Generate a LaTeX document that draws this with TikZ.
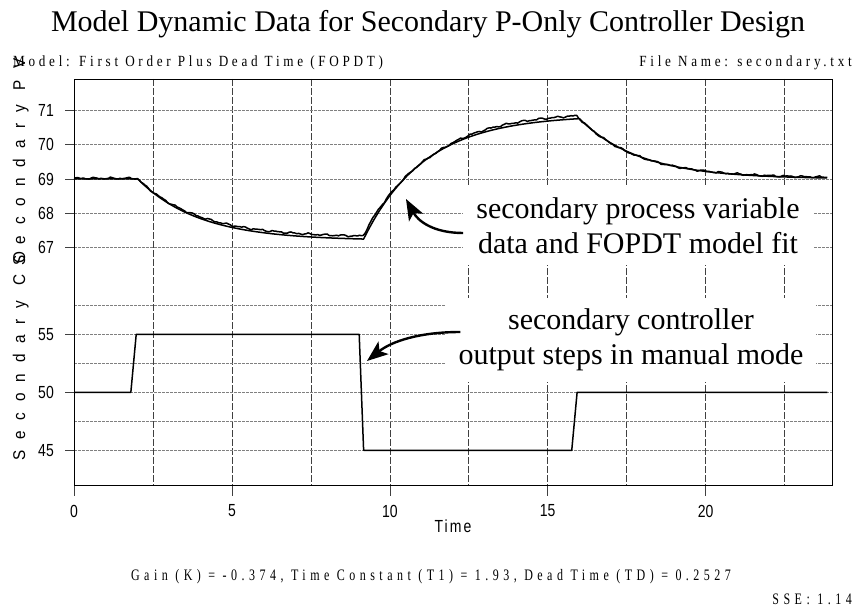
\documentclass[tikz,border=0pt]{standalone}
\usepackage{fontspec}
\setmainfont{Liberation Serif}
\newfontfamily\ticksans[FakeStretch=0.8]{Liberation Sans}
\newfontfamily\axistitle[FakeStretch=0.9,LetterSpace=64]{Liberation Sans}
\newfontfamily\timefont[FakeStretch=0.8,LetterSpace=12]{Liberation Sans}
\newfontfamily\headfont[FakeStretch=0.85,LetterSpace=24]{Liberation Serif}
\newfontfamily\infofont[FakeStretch=0.75,LetterSpace=28]{Liberation Serif}
\usetikzlibrary{arrows.meta}

\begin{document}
\begin{tikzpicture}[x=1pt,y=-1pt,
  frame/.style={line width=0.9pt},
  vgrid/.style={line width=0.6pt, black!75, dash pattern=on 7pt off 2pt},
  hgrid/.style={line width=0.7pt, black!50, dash pattern=on 3pt off 1pt},
  tickmark/.style={line width=0.6pt, black!75},
  trace/.style={line width=1.5pt, line join=round},
  note/.style={fill=white, align=center, font=\fontsize{30}{35}\selectfont,
               inner xsep=13pt, inner ysep=11pt},
  leader/.style={line width=2.4pt, -{Stealth[length=21pt,width=16pt,inset=5pt]}},
  ticklabel/.style={font=\ticksans\fontsize{17.5}{18}\selectfont, inner sep=0pt},
  headtext/.style={font=\headfont\fontsize{15.5}{16}\selectfont, inner sep=0pt},
  infotext/.style={font=\infofont\fontsize{16}{17}\selectfont, inner sep=0pt},
  declare function={
    nz(\t)=0.018*sin(10*mod(69*\t,36))+0.012*sin(10*mod(127*\t,36)+40)
           +0.008*sin(10*mod(247*\t,36)+100);
    mdl(\t)=(\t<2.02) ? 0 : ((\t<9.17) ? (-1.80*(1-exp(-(\t-2.02)/1.93)))
           : ((\t<16) ? (-1.7557+3.6257*(1-exp(-(\t-9.17)/1.93)))
           : (1.7647*exp(-(\t-16)/1.93))));
  }]

\useasboundingbox (0,0) rectangle (855,607);
\fill[white] (0,0) rectangle (855,607);

% title and header lines
\node[font=\fontsize{30}{34}\selectfont, anchor=base, inner sep=0pt] (title)
  at (428,32) {Model Dynamic Data for Secondary P-Only Controller Design};
\node[headtext, anchor=base west] (modelname) at (13,67)
  {Model: First Order Plus Dead Time (FOPDT)};
\node[headtext, anchor=base east] (filename) at (852,67)
  {File Name: secondary.txt};

% vertical grid (time every 2.5)
\foreach \t in {2.5,5,...,22.5}
  \draw[vgrid] ({74+31.583*\t},79) -- ({74+31.583*\t},485);

% process variable grid, ticks and labels
\foreach \v in {67,...,71} {
  \draw[hgrid] (74,{179-34.2*(\v-69)}) -- (832,{179-34.2*(\v-69)});
  \draw[tickmark] (65,{179-34.2*(\v-69)}) -- (74,{179-34.2*(\v-69)});
  \node[ticklabel, anchor=east] (pvlab\v) at (54,{179-34.2*(\v-69)}) {\v};
}

% controller output grid, ticks and labels
\foreach \v in {45,47.5,...,57.5}
  \draw[hgrid] (74,{392.3-11.6*(\v-50)}) -- (832,{392.3-11.6*(\v-50)});
\foreach \v in {45,50,55} {
  \draw[tickmark] (65,{392.3-11.6*(\v-50)}) -- (74,{392.3-11.6*(\v-50)});
  \node[ticklabel, anchor=east] (colab\v) at (54,{392.3-11.6*(\v-50)}) {\v};
}

% time axis ticks and labels
\foreach \t in {0,5,...,20} {
  \draw[tickmark] ({74+31.583*\t},485) -- ({74+31.583*\t},496);
  \node[ticklabel] (tlab\t) at ({74+31.583*\t},511) {\t};
}
\node[font=\timefont\fontsize{17.5}{18}\selectfont, inner sep=0pt] (timelabel)
  at (453,526) {Time};

% axis titles
\node[font=\axistitle\fontsize{17}{18}\selectfont, rotate=90, anchor=base,
      inner sep=0pt] (cotitle) at (25,356) {Secondary CO};
\node[font=\axistitle\fontsize{17}{18}\selectfont, rotate=90, anchor=base,
      inner sep=0pt] (pvtitle) at (25,162) {Secondary PV};

% annotation boxes
\node[note] (pvnote) at (638,226) {secondary process variable\\data and FOPDT model fit};
\node[note] (conote) at (631,340) {secondary controller\\output steps in manual mode};

% process variable: FOPDT model and measured data
\begin{scope}[shift={(74,179)}, x=31.583pt, y=34.2pt]
  \draw[trace] (0,0) -- (2.02,0)
    -- plot[domain=2.02:9.17, samples=70] (\x,{-1.80*(1-exp(-(\x-2.02)/1.93))})
    -- plot[domain=9.17:16, samples=70] (\x,{-1.7557+3.6257*(1-exp(-(\x-9.17)/1.93))})
    -- plot[domain=16:23.85, samples=70] (\x,{1.7647*exp(-(\x-16)/1.93)});
  \draw[trace]
       plot[domain=0:2, samples=34] (\x,{0.02+nz(\x)})
    -- plot[domain=2:9.1, samples=119] (\x,{0.02-1.73*(1-exp(-(\x-2)/1.9))+nz(\x)})
    -- plot[domain=9.1:15.92, samples=114]
         (\x,{mdl(\x)+0.085*exp(-(\x-9.1)/0.4)+0.6*(\x-9.1)*exp(-(\x-9.1)/0.3)
              +0.09*(1-exp(-max(\x-11.5,0)/1.2))+nz(\x)})
    -- plot[domain=15.92:23.85, samples=132] (\x,{0.03+1.818*exp(-(\x-15.92)/1.85)+nz(\x)});
\end{scope}

% controller output steps
\begin{scope}[shift={(74,392.3)}, x=31.583pt, y=11.6pt]
  \draw[trace] (0,0) -- (1.8,0) -- (1.97,5) -- (9.03,5) -- (9.17,-5)
    -- (15.76,-5) -- (15.93,0) -- (23.85,0);
\end{scope}

% leader arrows
\coordinate (pvtip) at (406,199);
\coordinate (cotip) at (367,361);
\draw[leader] ([yshift=-7pt]pvnote.west) .. controls +(-30,0) and +(12,22) .. (pvtip);
\draw[leader] ([xshift=15pt,yshift=8pt]conote.west) .. controls +(-40,0) and +(25,-20) .. (cotip);

% plot frame
\draw[frame] (74,79) rectangle (832,485);

% fit summary
\node[infotext, anchor=base] (fitinfo)
  at (431,580) {Gain (K) = -0.374, Time Constant (T1) = 1.93, Dead Time (TD) = 0.2527};
\node[infotext, anchor=base east] (sse) at (852,604) {SSE: 1.14};
\end{tikzpicture}
\end{document}
